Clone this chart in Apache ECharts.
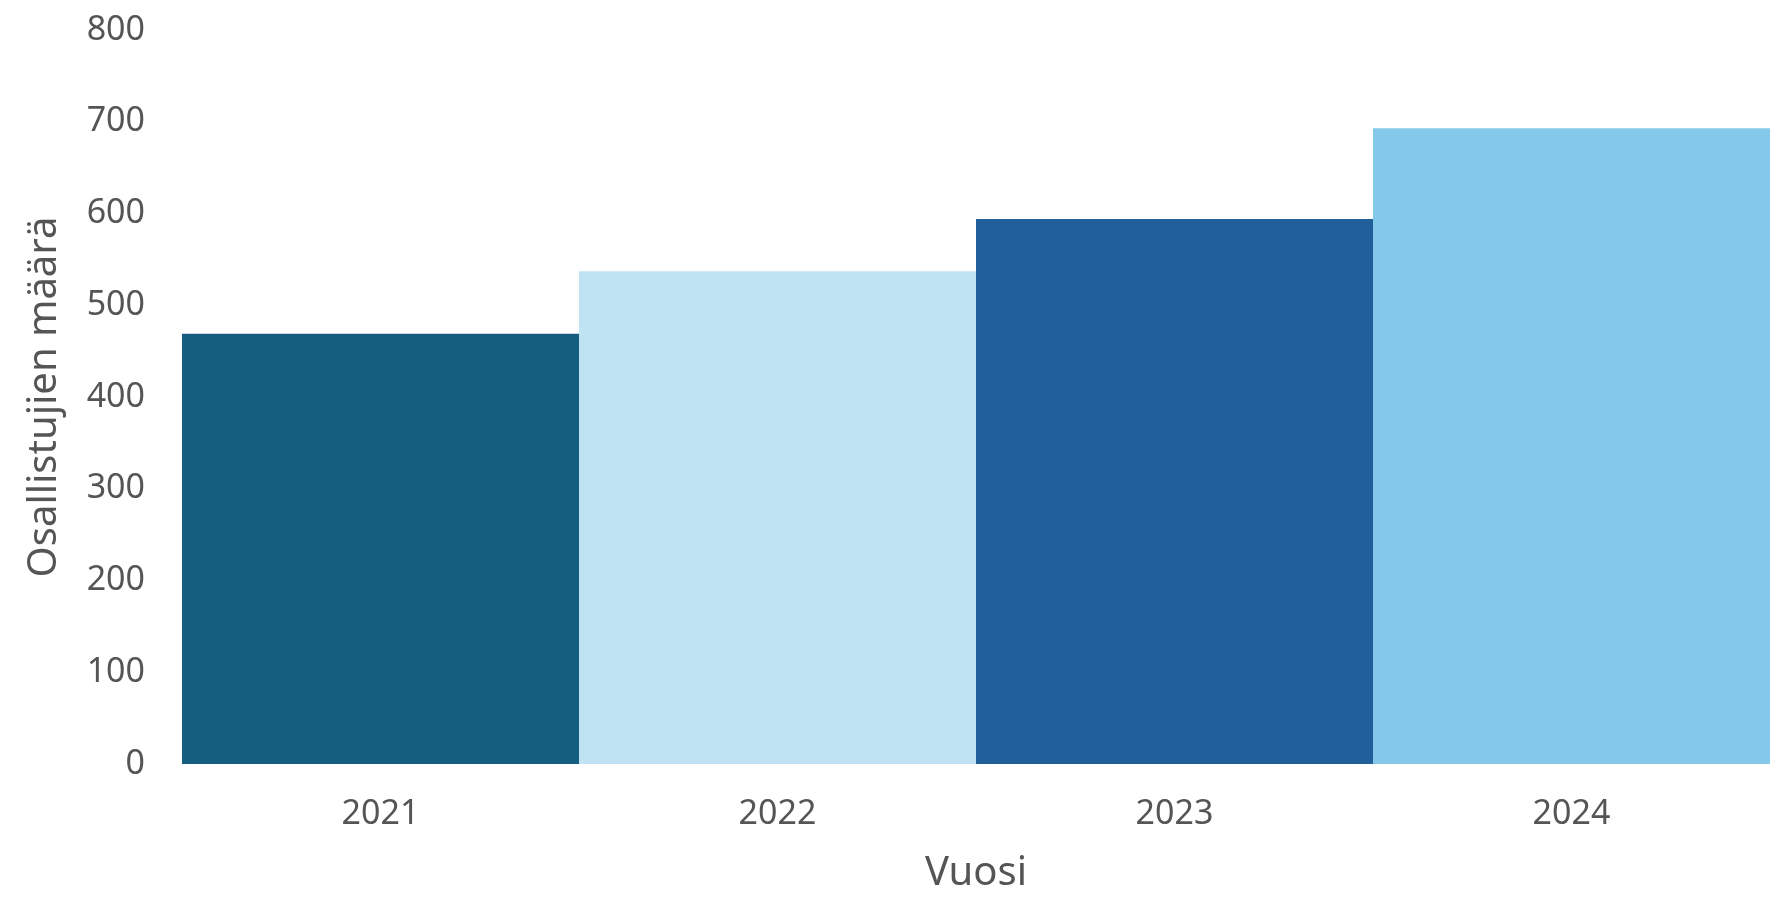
<!DOCTYPE html>
<html>
<head>
<meta charset="utf-8">
<script src="https://cdn.jsdelivr.net/npm/echarts@6/dist/echarts.min.js"></script>
<style>
html,body{margin:0;padding:0;background:#fff;}
#chart{width:1779px;height:897px;}
</style>
</head>
<body>
<div id="chart"></div>
<script>
var categories = ['2021', '2022', '2023', '2024'];
var values = [469, 537, 594, 693];
var barColors = ['#165e80', '#c0e3f3', '#215f9a', '#84c9ea'];
var yMin = 0, yMax = 800, yStep = 100;

var chart = echarts.init(document.getElementById('chart'));
var textColor = '#555555';
var font = 'Noto Sans';
chart.setOption({
  animation: false,
  backgroundColor: '#ffffff',
  grid: { left: 182, right: 9, top: 30, bottom: 133, containLabel: false, outerBoundsMode: 'none' },
  xAxis: {
    type: 'category',
    data: categories,
    name: 'Vuosi',
    nameLocation: 'middle',
    nameGap: 90,
    nameTextStyle: { color: textColor, fontSize: 40, fontFamily: font },
    axisLine: { show: false },
    axisTick: { show: false },
    axisLabel: { color: textColor, fontSize: 34, fontFamily: font, margin: 33 },
    splitLine: { show: false }
  },
  yAxis: {
    type: 'value',
    min: yMin, max: yMax, interval: yStep,
    name: 'Osallistujien määrä',
    nameLocation: 'middle',
    nameGap: 117,
    nameTextStyle: { color: textColor, fontSize: 40, fontFamily: font },
    axisLine: { show: false },
    axisTick: { show: false },
    axisLabel: { color: textColor, fontSize: 34, fontFamily: font, margin: 37 },
    splitLine: { show: false }
  },
  series: [{
    type: 'bar',
    data: values.map(function (v, i) { return { value: v, itemStyle: { color: barColors[i] } }; }),
    barCategoryGap: '0%',
    barWidth: '100%'
  }]
});
</script>
</body>
</html>
